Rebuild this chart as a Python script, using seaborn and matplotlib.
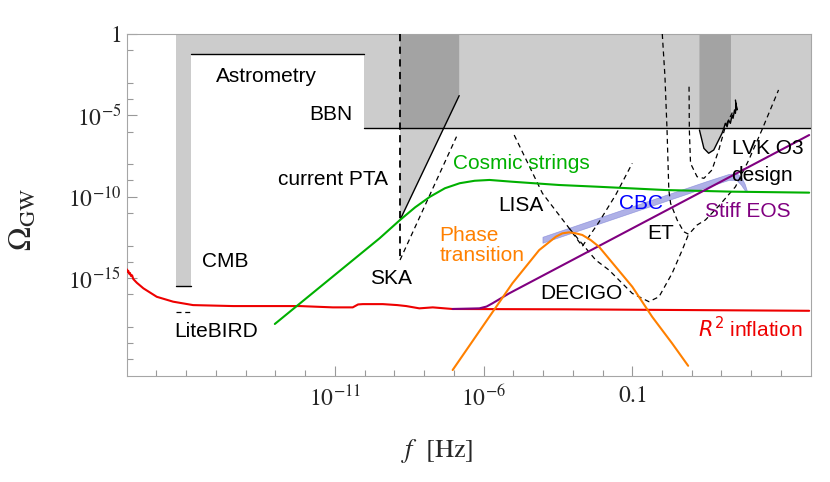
import numpy as np
import matplotlib
matplotlib.use("Agg")
import matplotlib.pyplot as plt
import seaborn as sns
from matplotlib.ticker import NullFormatter

# values, as log10(f / Hz) and log10(Omega_GW)

# gray excluded regions
cmb_logf = [-16.35, -15.85]
cmb_logom = -15.5
litebird_logom = -17.07
astrometry_logf = [-15.85, -10.03]
astrometry_logom = -1.25
bbn_logf = [-10.03, 5.0]
bbn_logom = -5.78

pta_logf = [-8.81, -6.82]
pta_logom = [-11.43, -3.79]

o3_logf = [1.26, 1.41, 1.57, 1.74, 2.02, 2.08, 2.13, 2.19, 2.24, 2.30,
           2.36, 2.39, 2.44, 2.47, 2.49, 2.52, 2.47]
o3_logom = [-5.90, -7.03, -7.33, -7.13, -6.10, -5.80, -5.49, -5.70, -5.29, -5.49,
            -4.98, -5.18, -4.67, -4.87, -4.26, -4.67, -4.06]
o3_column = [1.26, 2.32]

# sensitivity curves (dashed)
ska_logf = [-8.81, -8.81, -6.91]
ska_logom = [0.0, -13.89, -6.31]
lisa_logf = [-4.97, -4.02, -3.12, -2.68, -2.12, -1.56, -1.0]
lisa_logom = [-6.21, -9.79, -11.94, -13.05, -11.56, -9.90, -7.95]
decigo_logf = [-3.12, -2.23, -1.78, -1.0, -0.44, -0.10, 0.34, 0.68, 0.91]
decigo_logom = [-11.94, -13.89, -14.51, -15.94, -16.45, -16.15, -14.71, -13.28, -12.23]
et_logf = [0.01, 0.10, 0.17, 0.23, 0.29, 0.51, 0.73, 0.90, 1.18, 1.46, 1.91, 2.47, 2.92, 3.36, 3.92]
et_logom = [0.0, -2.62, -5.90, -9.59, -10.41, -11.43, -12.15, -12.31, -11.74, -11.43,
            -10.57, -9.39, -7.74, -5.90, -3.44]
lvk_logf = [0.91, 0.92, 0.96, 1.18, 1.41, 1.68, 1.91, 2.13, 2.41]
lvk_logom = [-3.24, -5.90, -7.95, -8.77, -8.87, -8.36, -7.13, -5.70, -4.67]

# signals
strings_logf = [-13.02, -9.50, -8.81, -8.30, -7.80, -7.30, -6.80, -6.30, -5.80,
                -5.03, -3.46, -2.12, 0.12, 2.36, 4.95]
strings_logom = [-17.82, -12.56, -11.43, -10.65, -10.0, -9.48, -9.17, -9.02, -8.97,
                 -9.08, -9.28, -9.39, -9.59, -9.69, -9.75]
r2_logf = [-18.0, -17.97, -17.95, -17.91, -17.89, -17.86, -17.82, -17.78, -17.66, -17.44,
           -16.99, -16.44, -15.77, -14.42, -12.18, -11.07, -10.40, -10.22, -10.06, -9.39,
           -8.90, -8.60, -8.16, -7.71, -7.04, -3.23, 4.95]
r2_logom = [-14.46, -14.61, -14.55, -14.75, -14.69, -14.87, -14.83, -15.06, -15.29, -15.63,
            -16.15, -16.45, -16.66, -16.72, -16.72, -16.80, -16.80, -16.62, -16.60, -16.60,
            -16.66, -16.72, -16.86, -16.80, -16.90, -16.92, -17.01]
stiff_logf = [-7.04, -6.14, -5.90, -5.70, -5.14, 4.95]
stiff_logom = [-16.90, -16.86, -16.75, -16.55, -15.94, -6.21]
pt_logf = [-7.04, -6.03, -5.03, -4.58, -4.13, -3.80, -3.57, -3.35, -3.12, -2.90,
           -2.68, -2.40, -2.12, -1.56, -1.0, -0.33, 0.34, 0.88]
pt_logom = [-20.65, -17.97, -15.32, -14.30, -13.28, -12.80, -12.46, -12.25, -12.19,
            -12.25, -12.35, -12.66, -13.07, -14.30, -15.53, -17.38, -19.01, -20.39]
cbc_logf = [-4.02, -2.0, 0.0, 1.5, 2.24, 2.5, 2.65, 2.78, 2.85]
cbc_hi = [-12.46, -11.21, -9.97, -9.04, -8.60, -8.55, -8.75, -9.20, -9.60]
cbc_lo = [-12.83, -11.58, -10.34, -9.41, -8.97, -8.98, -9.25, -9.60, -9.70]

# labels: text, log f, log Omega, colour
labels = [
    ("Astrometry", -13.29, -2.64, "black"),
    ("BBN", -11.14, -4.92, "black"),
    ("current PTA", -11.07, -8.97, "black"),
    ("Cosmic strings", -4.73, -7.95, "#00b000"),
    ("LISA", -4.75, -10.51, "black"),
    ("CBC", -0.72, -10.39, "blue"),
    ("Stiff EOS", 2.87, -10.92, "purple"),
    ("LVK O3", 3.55, -7.03, "black"),
    ("design", 3.35, -8.67, "black"),
    ("ET", -0.05, -12.25, "black"),
    ("CMB", -14.70, -14.0, "black"),
    ("SKA", -9.13, -15.02, "black"),
    ("DECIGO", -2.72, -15.94, "black"),
    ("LiteBIRD", -15.0, -18.3, "black"),
]

sns.set_style("white")
plt.rcParams["font.family"] = ["Liberation Sans", "DejaVu Sans"]
plt.rcParams["mathtext.fontset"] = "stix"

fig = plt.figure(figsize=(8.3, 4.82), dpi=100)
ax = fig.add_axes([0.1527, 0.2205, 0.824, 0.709])
ax.set_xscale("log")
ax.set_yscale("log")

p = lambda v: 10.0 ** np.asarray(v, dtype=float)
shade = dict(facecolor="black", alpha=0.2, linewidth=0, zorder=0)

# combined CMB / astrometry / BBN region
edge_f = [cmb_logf[0], cmb_logf[0], cmb_logf[1], astrometry_logf[0], astrometry_logf[1],
          bbn_logf[0], bbn_logf[1], bbn_logf[1]]
edge_om = [0, cmb_logom, cmb_logom, astrometry_logom, astrometry_logom,
           bbn_logom, bbn_logom, 0]
ax.fill(p(edge_f), p(edge_om), **shade)
# PTA region
ax.fill(p([pta_logf[0], pta_logf[0], pta_logf[1], pta_logf[1]]),
        p([0, pta_logom[0], pta_logom[1], 0]), **shade)
# LVK O3 region
o3f = list(o3_logf[:10]) + [o3_column[1], o3_column[1], o3_column[0]]
o3o = list(o3_logom[:10]) + [-5.2, 0, 0]
ax.fill(p(o3f), p(o3o), **shade)

ax.fill_between(p(cbc_logf), p(cbc_lo), p(cbc_hi), facecolor="#6d72d4", alpha=0.55,
                edgecolor="#6a6fd0", linewidth=0.5, zorder=1)


def curve(logf, logom, **kw):
    sns.lineplot(x=p(logf), y=p(logom), ax=ax, sort=False, estimator=None,
                 legend=False, **kw)


black = dict(color="black", linewidth=1.0, zorder=3)
dash = dict(color="black", linewidth=0.9, linestyle=(0, (4, 3)), zorder=3)

curve(cmb_logf, [cmb_logom] * 2, **black)
curve([cmb_logf[0], cmb_logf[1]], [litebird_logom] * 2, **dash)
curve(astrometry_logf, [astrometry_logom] * 2, **black)
curve(bbn_logf, [bbn_logom] * 2, **black)
curve(pta_logf, pta_logom, **black)
curve(o3_logf, o3_logom, **black)

curve(ska_logf[:2], ska_logom[:2], color="black", linewidth=1.3,
      linestyle=(0, (4, 3)), zorder=3)
curve(ska_logf[1:], ska_logom[1:], **dash)
curve(lisa_logf, lisa_logom, **dash)
curve(decigo_logf, decigo_logom, **dash)
curve(et_logf, et_logom, **dash)
curve(lvk_logf, lvk_logom, **dash)

curve(r2_logf, r2_logom, color="#ee0000", linewidth=1.5, zorder=4)
curve(strings_logf, strings_logom, color="#00b000", linewidth=1.5, zorder=4)
curve(stiff_logf, stiff_logom, color="purple", linewidth=1.5, zorder=4)
curve(pt_logf, pt_logom, color="#ff8000", linewidth=1.5, zorder=4)

for text, lf, lo, col in labels:
    ax.text(p(lf), p(lo), text, color=col, fontsize=15, ha="center", va="center", zorder=5)
ax.text(p(-7.49), p(-13.0), "Phase\ntransition", color="#ff8000", fontsize=15,
        ha="left", va="center", linespacing=1.05, zorder=5)
ax.text(p(2.98), p(-18.09), r"$R^2$ inflation", color="#ee0000", fontsize=15,
        ha="center", va="center", math_fontfamily="dejavusans", zorder=5)

ax.set_xlim(1e-18, 1e5)
ax.set_ylim(1e-21, 1)

ax.set_xticks(p([-11, -6, -1]))
ax.set_xticklabels([r"$10^{-11}$", r"$10^{-6}$", r"$0.1$"])
ax.set_xticks(p([d for d in range(-17, 5) if d not in (-11, -6, -1)]), minor=True)
ax.set_yticks(p([0, -5, -10, -15]))
ax.set_yticklabels([r"$1$", r"$10^{-5}$", r"$10^{-10}$", r"$10^{-15}$"])
ax.set_yticks(p([d for d in range(-20, 0) if d not in (-2, -5, -7, -10, -12, -15, -17)]),
              minor=True)
ax.xaxis.set_minor_formatter(NullFormatter())
ax.yaxis.set_minor_formatter(NullFormatter())
ax.tick_params(which="both", direction="in", color="#999999", width=0.8,
               bottom=True, left=True, top=False, right=False, labelsize=17)
ax.tick_params(which="major", length=7)
ax.tick_params(which="minor", length=4)
ax.tick_params(axis="x", pad=7)
ax.tick_params(axis="y", pad=4)
for s in ax.spines.values():
    s.set_color("#a6a6a6")
    s.set_linewidth(0.8)

ax.set_xlabel(r"$f$  [Hz]", fontsize=19, family="STIXGeneral")
ax.xaxis.set_label_coords(0.454, -0.179)
ax.xaxis.label.set_va("top")
ax.set_ylabel(r"$\Omega_{\rm GW}$", fontsize=23)
ax.yaxis.set_label_coords(-0.128, 0.459)

fig.savefig("out.png", dpi=100)
